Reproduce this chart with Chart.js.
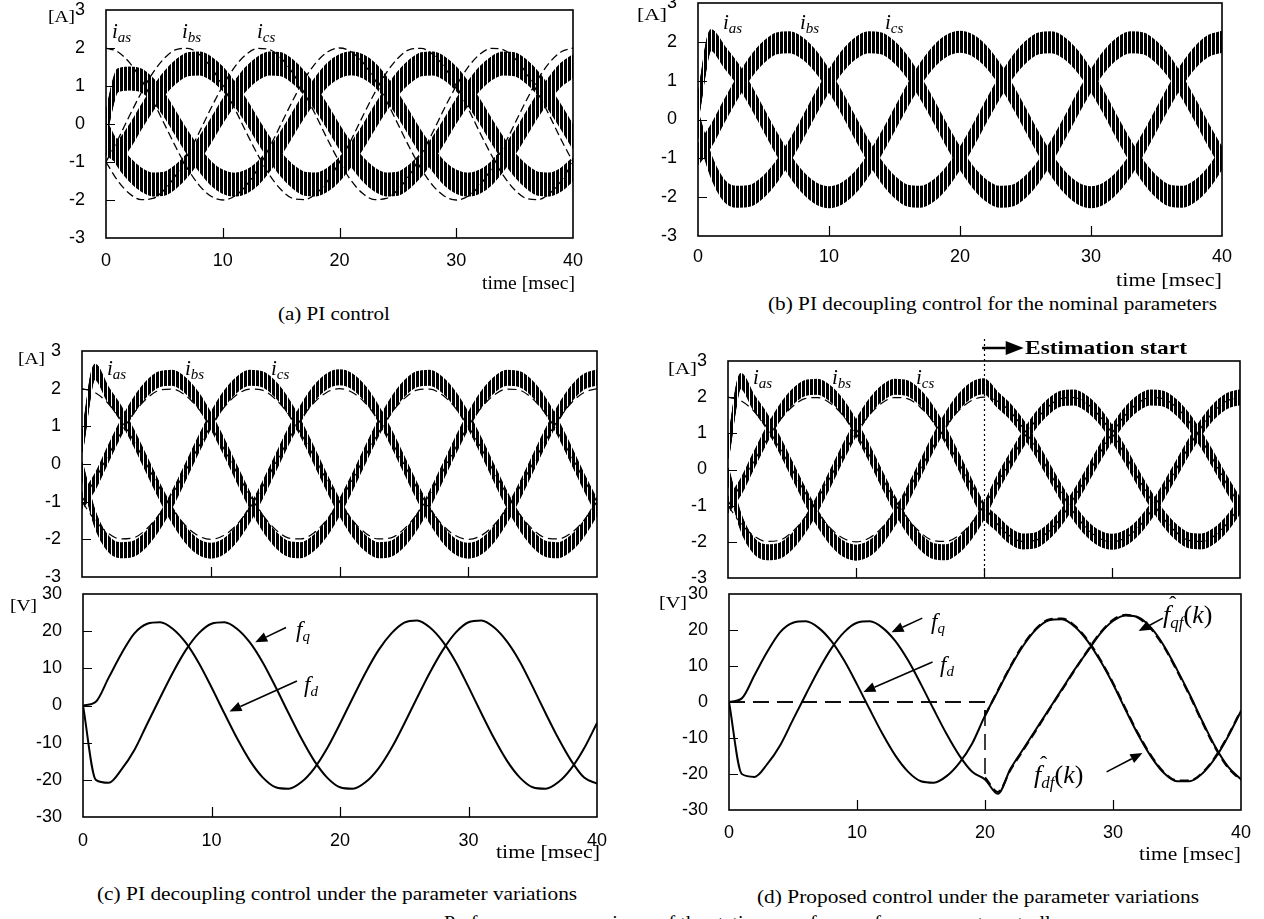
<!DOCTYPE html>
<html>
<head>
<meta charset="utf-8">
<script src="https://cdn.jsdelivr.net/npm/chart.js@4.4.1/dist/chart.umd.min.js"></script>
<style>
html, body { margin: 0; padding: 0; background: #fff; }
body { width: 1264px; height: 919px; position: relative; overflow: hidden; }
canvas { position: absolute; }
.lbl { position: absolute; white-space: nowrap; transform: translateY(-50%); transform-origin: 0 50%;
       font-family: "Liberation Serif", "Times New Roman", serif; color: #000; line-height: 1; }
.cap { font-size: 19px; }
.unit { font-size: 16px; }
.cur { font-size: 21px; }
.fl { font-size: 23px; }
.hat { font-size: 26px; }
.cur sub, .fl sub { font-size: 15px; vertical-align: baseline; position: relative; top: 4px; }
.hat sub { font-size: 17px; vertical-align: baseline; position: relative; top: 5px; }
.est { font-size: 19px; font-weight: bold; }
.hw { position: relative; display: inline-block; }
.hc { position: absolute; left: 6px; top: -9px; font-size: 22px; }
</style>
</head>
<body>
<script>
// time axis, msec
const time = [0,1,2,3,4,5,6,7,8,9,10,11,12,13,14,15,16,17,18,19,20,21,22,23,24,25,26,27,28,29,30,31,32,33,34,35,36,37,38,39,40];

// current references (dashed), A
const refAs = [2,1.9,1.62,1.18,0.62,0,-0.62,-1.18,-1.62,-1.9,-2,-1.9,-1.62,-1.18,-0.62,0,0.62,1.18,1.62,1.9,2,1.9,1.62,1.18,0.62,0,-0.62,-1.18,-1.62,-1.9,-2,-1.9,-1.62,-1.18,-0.62,0,0.62,1.18,1.62,1.9,2];
const refBs = [-1,-0.42,0.21,0.81,1.34,1.73,1.96,1.99,1.83,1.49,1,0.42,-0.21,-0.81,-1.34,-1.73,-1.96,-1.99,-1.83,-1.49,-1,-0.42,0.21,0.81,1.34,1.73,1.96,1.99,1.83,1.49,1,0.42,-0.21,-0.81,-1.34,-1.73,-1.96,-1.99,-1.83,-1.49,-1];
const refCs = [-1,-1.49,-1.83,-1.99,-1.96,-1.73,-1.34,-0.81,-0.21,0.42,1,1.49,1.83,1.99,1.96,1.73,1.34,0.81,0.21,-0.42,-1,-1.49,-1.83,-1.99,-1.96,-1.73,-1.34,-0.81,-0.21,0.42,1,1.49,1.83,1.99,1.96,1.73,1.34,0.81,0.21,-0.42,-1];

// (a) PI control
const aAs = [0,1.15,1.2,1.15,0.9,0.5,0,-0.5,-0.94,-1.3,-1.52,-1.6,-1.52,-1.3,-0.94,-0.5,0,0.5,0.94,1.3,1.52,1.6,1.52,1.3,0.94,0.5,0,-0.5,-0.94,-1.3,-1.52,-1.6,-1.52,-1.3,-0.94,-0.5,0,0.5,0.94,1.3,1.52];
const aBs = [-0.5,-0.7,-0.34,0.17,0.65,1.07,1.38,1.57,1.59,1.46,1.19,0.8,0.34,-0.17,-0.65,-1.07,-1.38,-1.57,-1.59,-1.46,-1.19,-0.8,-0.34,0.17,0.65,1.07,1.38,1.57,1.59,1.46,1.19,0.8,0.34,-0.17,-0.65,-1.07,-1.38,-1.57,-1.59,-1.46,-1.19];
const aCs = [-0.2,-0.8,-1.19,-1.46,-1.59,-1.57,-1.38,-1.07,-0.65,-0.17,0.34,0.8,1.19,1.46,1.59,1.57,1.38,1.07,0.65,0.17,-0.34,-0.8,-1.19,-1.46,-1.59,-1.57,-1.38,-1.07,-0.65,-0.17,0.34,0.8,1.19,1.46,1.59,1.57,1.38,1.07,0.65,0.17,-0.34];

// (b) PI decoupling, nominal parameters
const bAs = [0.3,2.05,1.62,1.18,0.62,0,-0.62,-1.18,-1.62,-1.9,-2,-1.9,-1.62,-1.18,-0.62,0,0.62,1.18,1.62,1.9,2,1.9,1.62,1.18,0.62,0,-0.62,-1.18,-1.62,-1.9,-2,-1.9,-1.62,-1.18,-0.62,0,0.62,1.18,1.62,1.9,2];
const bBs = [-0.9,-0.42,0.21,0.81,1.34,1.73,1.96,1.99,1.83,1.49,1,0.42,-0.21,-0.81,-1.34,-1.73,-1.96,-1.99,-1.83,-1.49,-1,-0.42,0.21,0.81,1.34,1.73,1.96,1.99,1.83,1.49,1,0.42,-0.21,-0.81,-1.34,-1.73,-1.96,-1.99,-1.83,-1.49,-1];
const bCs = [-0.1,-1.2,-1.83,-1.99,-1.96,-1.73,-1.34,-0.81,-0.21,0.42,1,1.49,1.83,1.99,1.96,1.73,1.34,0.81,0.21,-0.42,-1,-1.49,-1.83,-1.99,-1.96,-1.73,-1.34,-0.81,-0.21,0.42,1,1.49,1.83,1.99,1.96,1.73,1.34,0.81,0.21,-0.42,-1];

// (c) PI decoupling, parameter variations
const cAs = [0.5,2.45,1.86,1.35,0.71,0,-0.71,-1.35,-1.86,-2.19,-2.3,-2.19,-1.86,-1.35,-0.71,0,0.71,1.35,1.86,2.19,2.3,2.19,1.86,1.35,0.71,0,-0.71,-1.35,-1.86,-2.19,-2.3,-2.19,-1.86,-1.35,-0.71,0,0.71,1.35,1.86,2.19,2.3];
const cBs = [-1,-0.48,0.24,0.94,1.54,1.99,2.25,2.29,2.1,1.71,1.15,0.48,-0.24,-0.94,-1.54,-1.99,-2.25,-2.29,-2.1,-1.71,-1.15,-0.48,0.24,0.94,1.54,1.99,2.25,2.29,2.1,1.71,1.15,0.48,-0.24,-0.94,-1.54,-1.99,-2.25,-2.29,-2.1,-1.71,-1.15];
const cCs = [-0.15,-1.45,-2.1,-2.29,-2.25,-1.99,-1.54,-0.94,-0.24,0.48,1.15,1.71,2.1,2.29,2.25,1.99,1.54,0.94,0.24,-0.48,-1.15,-1.71,-2.1,-2.29,-2.25,-1.99,-1.54,-0.94,-0.24,0.48,1.15,1.71,2.1,2.29,2.25,1.99,1.54,0.94,0.24,-0.48,-1.15];
const cFd = [0,1,7.5,14,19.4,22,22.4,20.6,16.9,11.5,4.9,-2.1,-8.9,-14.9,-19.4,-22,-22.4,-20.6,-16.9,-11.5,-4.9,2.1,8.9,14.9,19.4,22.3,22.9,21,17.2,11.8,5,-2.1,-8.9,-14.9,-19.4,-22,-22.4,-20.6,-16.9,-11.5,-4.7];
const cFq = [0,-20,-20.8,-17.2,-12,-4.9,2.1,8.9,14.9,19.4,22,22.4,20.6,16.9,11.5,4.9,-2.1,-8.9,-14.9,-19.4,-22,-22.4,-20.6,-16.9,-11.5,-4.9,2.1,8.9,14.9,19.6,22.4,22.9,21,17.2,11.8,5,-2.1,-8.9,-14.9,-19.4,-21];

// (d) proposed control, parameter variations
const dAs = [0.5,2.45,1.86,1.35,0.71,0,-0.71,-1.35,-1.86,-2.19,-2.3,-2.19,-1.86,-1.35,-0.71,0,0.71,1.35,1.86,2.19,2.3,1.95,1.62,1.18,0.62,0,-0.62,-1.18,-1.62,-1.9,-2,-1.9,-1.62,-1.18,-0.62,0,0.62,1.18,1.62,1.9,2];
const dBs = [-1,-0.48,0.24,0.94,1.54,1.99,2.25,2.29,2.1,1.71,1.15,0.48,-0.24,-0.94,-1.54,-1.99,-2.25,-2.29,-2.1,-1.71,-1.15,-0.42,0.21,0.81,1.34,1.73,1.96,1.99,1.83,1.49,1,0.42,-0.21,-0.81,-1.34,-1.73,-1.96,-1.99,-1.83,-1.49,-1];
const dCs = [-0.15,-1.45,-2.1,-2.29,-2.25,-1.99,-1.54,-0.94,-0.24,0.48,1.15,1.71,2.1,2.29,2.25,1.99,1.54,0.94,0.24,-0.48,-1.15,-1.49,-1.83,-1.99,-1.96,-1.73,-1.34,-0.81,-0.21,0.42,1,1.49,1.83,1.99,1.96,1.73,1.34,0.81,0.21,-0.42,-1];
const dFd = [0,1,7.5,14,19.4,22,22.4,20.6,16.9,11.5,4.9,-2.1,-8.9,-14.9,-19.4,-22,-22.4,-20.6,-16.9,-11.5,-3.8,3,9.8,15.7,20.2,22.7,23,21,17,11.5,5,-2.3,-9.3,-15.3,-19.8,-22,-22,-19.8,-15.5,-9.5,-2.5];
const dFq = [0,-20,-20.8,-17.2,-12,-4.9,2.1,8.9,14.9,19.4,22,22.4,20.6,16.9,11.5,4.9,-2.1,-8.9,-14.9,-19.4,-21.5,-25.5,-18.5,-13,-7.5,-2,3.5,9,14,19,22.5,24,23.5,20.5,15.5,9,2,-5.5,-12.5,-18,-21.5];

// estimated disturbances (dashed); zero until estimation starts at 20 msec
const estPreT = [0, 20, 20];
const qfPre = [0, 0, -21];
const dfPre = [0, 0, -3.8];
const estT = [20,21,22,23,24,25,26,27,28,29,30,31,32,33,34,35,36,37,38,39,40];
const qfHat = [-21,-25,-18.8,-13.3,-7.8,-2.2,3.3,8.8,14.2,19.2,22.8,24.2,23.3,20.2,15.2,8.7,1.7,-5.8,-12.8,-18.3,-21.7];
const dfHat = [-3.8,3.2,10,16,20.4,22.9,23.2,21.2,17.3,11.8,5.3,-2,-9,-15,-19.6,-21.8,-21.8,-19.6,-15.2,-9.3,-2.3];

// vertical hatch used for the PWM ripple bands
const stripe = document.createElement('canvas');
stripe.width = 4; stripe.height = 4;
stripe.getContext('2d').fillRect(0, 0, 3, 4);
const hatch = (chart) => chart.ctx.createPattern(stripe, 'repeat');

const pts = (xs, ys) => xs.map((x, i) => ({ x: x, y: ys[i] }));
const band = (xs, ys, r) => ({ data: pts(xs, ys), borderColor: (c) => hatch(c.chart), borderWidth: 2, ripple: r });
const dash = (xs, ys, d, w, straight) => {
    const ds = { data: pts(xs, ys), borderColor: '#000', borderWidth: w, borderDash: d };
    if (straight) { ds.cubicInterpolationMode = 'default'; ds.tension = 0; }
    return ds;
};
const line = (xs, ys) => ({ data: pts(xs, ys), borderColor: '#000', borderWidth: 2 });

function arrow(ctx, x1, y1, x2, y2, lw, hl, hw) {
    const a = Math.atan2(y2 - y1, x2 - x1);
    const bx = x2 - hl * Math.cos(a), by = y2 - hl * Math.sin(a);
    ctx.lineWidth = lw;
    ctx.beginPath(); ctx.moveTo(x1, y1); ctx.lineTo(bx, by); ctx.stroke();
    ctx.beginPath(); ctx.moveTo(x2, y2);
    ctx.lineTo(bx + hw * Math.sin(a), by - hw * Math.cos(a));
    ctx.lineTo(bx - hw * Math.sin(a), by + hw * Math.cos(a));
    ctx.closePath(); ctx.fill();
}

// ripple band: redraw the line shifted up and down
const ripplePlugin = {
    id: 'ripple',
    afterDatasetDraw(chart, args) {
        const r = chart.data.datasets[args.index].ripple;
        if (!r) return;
        const ctx = chart.ctx, a = chart.chartArea, el = args.meta.dataset;
        ctx.save();
        ctx.beginPath(); ctx.rect(a.left, a.top, a.right - a.left, a.bottom - a.top); ctx.clip();
        for (let d = -r; d <= r; d++) {
            ctx.save(); ctx.translate(0, d); el.draw(ctx, a); ctx.restore();
        }
        ctx.restore();
    }
};

// frame, inner ticks, arrows
const decorPlugin = (cfg) => ({
    id: 'decor',
    afterDraw(chart) {
        const ctx = chart.ctx, a = chart.chartArea, x = chart.scales.x, y = chart.scales.y;
        ctx.save();
        ctx.strokeStyle = '#000'; ctx.fillStyle = '#000';
        ctx.lineWidth = 1.2;
        ctx.beginPath();
        cfg.yTicks.forEach(v => { const p = Math.round(y.getPixelForValue(v)) + 0.5; ctx.moveTo(a.left, p); ctx.lineTo(a.left + 9, p); });
        [10, 20, 30].forEach(v => { const p = Math.round(x.getPixelForValue(v)) + 0.5; ctx.moveTo(p, a.bottom); ctx.lineTo(p, a.bottom - 10); });
        ctx.stroke();
        ctx.lineWidth = 1.6;
        ctx.strokeRect(a.left, a.top, a.right - a.left, a.bottom - a.top);
        (cfg.arrows || []).forEach(r => arrow(ctx, x.getPixelForValue(r[0]), y.getPixelForValue(r[1]),
            x.getPixelForValue(r[2]), y.getPixelForValue(r[3]), 1.6, 12, 5));
        if (cfg.start) {
            const px = Math.round(x.getPixelForValue(cfg.start.at)) + 0.5;
            ctx.setLineDash([2, 3]); ctx.lineWidth = 1.2;
            ctx.beginPath(); ctx.moveTo(px, a.top - 22); ctx.lineTo(px, a.bottom); ctx.stroke();
            ctx.setLineDash([]);
            const yy = a.top - 13;
            arrow(ctx, x.getPixelForValue(cfg.start.from), yy, x.getPixelForValue(cfg.start.to), yy, 2.5, 18, 7);
        }
        ctx.restore();
    }
});

function panel(box, o) {
    const ML = 70, MR = 16, MB = 36, MT = o.mt || 14;
    const w = box[2] - box[0] + ML + MR, h = box[3] - box[1] + MT + MB;
    const cv = document.createElement('canvas');
    cv.width = w; cv.height = h;
    cv.style.left = (box[0] - ML) + 'px'; cv.style.top = (box[1] - MT) + 'px';
    cv.style.width = w + 'px'; cv.style.height = h + 'px';
    document.body.appendChild(cv);
    const tickFont = { family: '"Liberation Sans", Arial, sans-serif', size: 18 };
    return new Chart(cv, {
        type: 'line',
        data: { datasets: o.datasets },
        options: {
            responsive: false,
            devicePixelRatio: 1,
            animation: false,
            events: [],
            layout: { padding: { left: 0, right: MR, top: MT, bottom: 0 } },
            elements: { point: { radius: 0 }, line: { cubicInterpolationMode: 'monotone', borderJoinStyle: 'round' } },
            plugins: { legend: { display: false }, tooltip: { enabled: false } },
            scales: {
                x: {
                    type: 'linear', min: 0, max: 40,
                    grid: { display: false }, border: { display: false },
                    ticks: { display: o.xLabels, stepSize: 10, padding: o.xPad, color: '#000', font: tickFont, maxRotation: 0, autoSkip: false },
                    afterFit(s) { s.height = MB; s.paddingLeft = 0; s.paddingRight = 0; }
                },
                y: {
                    min: o.ymin, max: o.ymax,
                    grid: { display: false }, border: { display: false },
                    ticks: { stepSize: o.step, padding: 13, color: '#000', font: tickFont, autoSkip: false },
                    afterFit(s) { s.width = ML; s.paddingTop = 0; s.paddingBottom = 0; }
                }
            }
        },
        plugins: [decorPlugin(o), ripplePlugin]
    });
}

const curTicks = [-2, -1, 0, 1, 2];
const volTicks = [-20, -10, 0, 10, 20];

// (a)
panel([106, 10, 573, 238], {
    ymin: -3, ymax: 3, step: 1, yTicks: curTicks, xLabels: true, xPad: 4,
    datasets: [
        band(time, aAs, 11), band(time, aBs, 11), band(time, aCs, 11),
        dash(time, refAs, [8, 4], 1.3), dash(time, refBs, [8, 4], 1.3), dash(time, refCs, [8, 4], 1.3)
    ]
});

// (b)
panel([698, 3, 1222, 236], {
    ymin: -3, ymax: 3, step: 1, yTicks: curTicks, xLabels: true, xPad: 2,
    datasets: [band(time, bAs, 10), band(time, bBs, 10), band(time, bCs, 10)]
});

// (c) currents and voltages
panel([82, 351, 597, 577], {
    ymin: -3, ymax: 3, step: 1, yTicks: curTicks, xLabels: false, xPad: 4,
    datasets: [
        band(time, cAs, 7), band(time, cBs, 7), band(time, cCs, 7),
        dash(time, refAs, [9, 5], 1.2), dash(time, refBs, [9, 5], 1.2), dash(time, refCs, [9, 5], 1.2)
    ]
});
panel([83, 594, 597, 817], {
    ymin: -30, ymax: 30, step: 10, yTicks: volTicks, xLabels: true, xPad: 5,
    datasets: [line(time, cFd), line(time, cFq)],
    arrows: [[15.8, 21, 13.4, 17], [16.65, 6.6, 11.4, -1.6]]
});

// (d) currents and voltages
panel([728, 361, 1240, 578], {
    ymin: -3, ymax: 3, step: 1, yTicks: curTicks, xLabels: false, xPad: 4, mt: 45,
    start: { at: 20, from: 19.85, to: 23.1 },
    datasets: [
        band(time, dAs, 7), band(time, dBs, 7), band(time, dCs, 7),
        dash(time, refAs, [9, 5], 1.2), dash(time, refBs, [9, 5], 1.2), dash(time, refCs, [9, 5], 1.2)
    ]
});
panel([729, 594, 1241, 810], {
    ymin: -30, ymax: 30, step: 10, yTicks: volTicks, xLabels: true, xPad: 4,
    datasets: [
        line(time, dFd), line(time, dFq),
        dash(estPreT, qfPre, [16, 8], 1.5, true), dash(estPreT, dfPre, [16, 8], 1.5, true),
        dash(estT, qfHat, [9, 5], 2.2), dash(estT, dfHat, [9, 5], 2.2)
    ],
    arrows: [[15.1, 23.3, 12.7, 19.4], [15.9, 11.1, 10.5, 2.8], [33.9, 23.3, 32.0, 19.7], [29.5, -19.4, 32.3, -14.2]]
});

// text
function label(html, x, y, cls, w) {
    const el = document.createElement('div');
    el.className = 'lbl ' + cls;
    el.innerHTML = html;
    el.style.left = x + 'px';
    el.style.top = y + 'px';
    document.body.appendChild(el);
    if (w) {
        const k = w / el.getBoundingClientRect().width;
        el.style.transform = 'translateY(-50%) scaleX(' + k.toFixed(3) + ')';
    }
}
const iv = s => '<i>i</i><sub><i>' + s + '</i></sub>';
const fv = s => '<i>f</i><sub><i>' + s + '</i></sub>';
const fh = s => '<span class="hw"><i>f</i><span class="hc">\u02C6</span></span><sub><i>' + s + '</i></sub>(<i>k</i>)';

label('(a) PI control', 278, 313, 'cap', 112);
label('(b) PI decoupling control for the nominal parameters', 768, 303, 'cap', 449);
label('(c) PI decoupling control under the parameter variations', 97, 893, 'cap', 480);
label('(d) Proposed control under the parameter variations', 757, 896, 'cap', 442);
label('Performance comparisons of the stationary reference frame current controllers', 444, 922, 'cap', 630);

label('time [msec]', 482, 282, 'cap', 93);
label('time [msec]', 1116, 279, 'cap', 106);
label('time [msec]', 496, 851, 'cap', 104);
label('time [msec]', 1139, 853, 'cap', 102);

label('[A]', 48, 17, 'unit', 27);
label('[A]', 637, 15, 'unit', 30);
label('[A]', 18, 359, 'unit', 27);
label('[V]', 10, 606, 'unit', 27);
label('[A]', 668, 369, 'unit', 29);
label('[V]', 659, 603, 'unit', 28);

label(iv('as'), 112, 31, 'cur'); label(iv('bs'), 182, 31, 'cur'); label(iv('cs'), 257, 31, 'cur');
label(iv('as'), 723, 22, 'cur'); label(iv('bs'), 800, 22, 'cur'); label(iv('cs'), 885, 22, 'cur');
label(iv('as'), 107, 368, 'cur'); label(iv('bs'), 185, 368, 'cur'); label(iv('cs'), 271, 368, 'cur');
label(iv('as'), 753, 377, 'cur'); label(iv('bs'), 832, 377, 'cur'); label(iv('cs'), 916, 377, 'cur');

label(fv('q'), 296, 629, 'fl'); label(fv('d'), 304, 684, 'fl');
label(fv('q'), 931, 621, 'fl'); label(fv('d'), 940, 664, 'fl');
label(fh('qf'), 1163, 615, 'hat');
label(fh('df'), 1034, 775, 'hat');

label('Estimation start', 1025, 347, 'est', 162);
</script>
</body>
</html>
